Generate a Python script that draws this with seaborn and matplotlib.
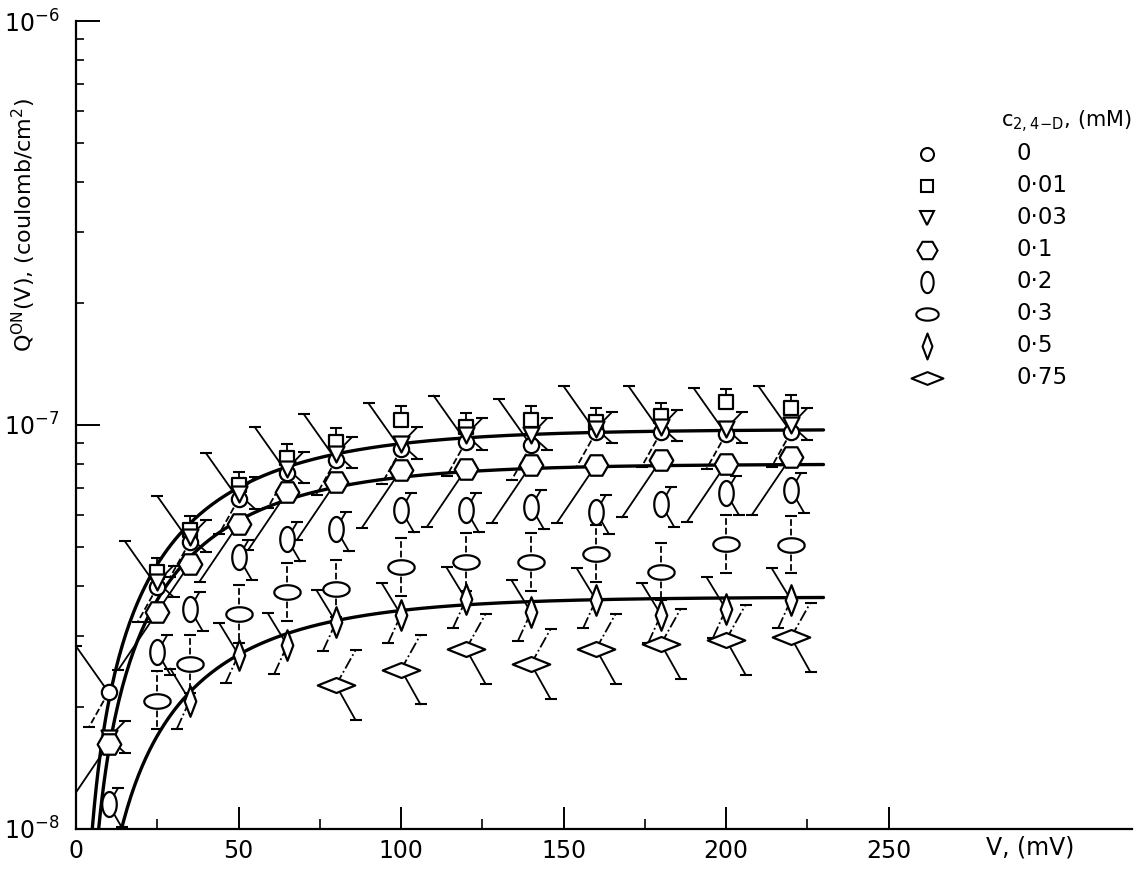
import numpy as np
import pandas as pd
import matplotlib
matplotlib.use("Agg")
import matplotlib.pyplot as plt
import seaborn as sns
from matplotlib.path import Path
from matplotlib.ticker import LogLocator, NullFormatter, FixedLocator

# ---------------- data ----------------
V_MV = [10, 25, 35, 50, 65, 80, 100, 120, 140, 160, 180, 200, 220]
nan = np.nan
Q_0 = [2.18e-8, 3.97e-8, 5.13e-8, 6.55e-8, 7.6e-8, 8.2e-8, 8.7e-8, 9.1e-8, 8.9e-8, 9.6e-8, 9.6e-8, 9.5e-8, 9.6e-8]
Q_001 = [nan, 4.33e-8, 5.5e-8, 7.1e-8, 8.3e-8, 9.1e-8, 1.03e-7, 0.99e-7, 1.03e-7, 1.02e-7, 1.05e-7, 1.14e-7, 1.1e-7]
Q_003 = [1.68e-8, 4.08e-8, 5.28e-8, 6.75e-8, 7.8e-8, 8.5e-8, 8.98e-8, 9.45e-8, 9.45e-8, 9.8e-8, 9.9e-8, 9.8e-8, 1.0e-7]
Q_01 = [1.62e-8, 3.44e-8, 4.53e-8, 5.69e-8, 6.82e-8, 7.22e-8, 7.74e-8, 7.78e-8, 7.96e-8, 7.96e-8, 8.2e-8, 8.0e-8, 8.33e-8]
Q_02 = [1.15e-8, 2.74e-8, 3.51e-8, 4.71e-8, 5.22e-8, 5.53e-8, 6.16e-8, 6.16e-8, 6.27e-8, 6.1e-8, 6.37e-8, 6.8e-8, 6.9e-8]
Q_03 = [nan, 2.08e-8, 2.56e-8, 3.4e-8, 3.86e-8, 3.93e-8, 4.45e-8, 4.58e-8, 4.58e-8, 4.8e-8, 4.33e-8, 5.07e-8, 5.05e-8]
Q_05 = [nan, nan, 2.08e-8, 2.70e-8, 2.85e-8, 3.25e-8, 3.39e-8, 3.7e-8, 3.44e-8, 3.69e-8, 3.39e-8, 3.5e-8, 3.69e-8]
Q_075 = [nan, nan, nan, nan, nan, 2.27e-8, 2.48e-8, 2.79e-8, 2.56e-8, 2.79e-8, 2.87e-8, 2.94e-8, 2.98e-8]

CONC_LABELS = ["0", "0·01", "0·03", "0·1", "0·2", "0·3", "0·5", "0·75"]
SERIES = [Q_0, Q_001, Q_003, Q_01, Q_02, Q_03, Q_05, Q_075]

# relative error (upper / lower multiplicative factors), nan = not drawn
ERR_UP = [1.30, 1.08, 1.10, nan, 1.10, 1.18, 1.20, 1.22]
ERR_DN = [0.82, nan, 0.92, 0.72, 0.88, 0.85, 0.85, 0.82]

# fitted curves: Qmax, V0 (mV), k (mV)
FIT_QMAX = [9.75e-8, 8.0e-8, 3.75e-8]
FIT_V0 = [0.8, 2.0, 2.4]
FIT_K = [38.9, 37.2, 37.4]
FIT_VEND = 230

X_TICKS = [0, 50, 100, 150, 200, 250]
X_MINOR = [25, 75, 125, 175, 225]

# ---------------- styles ----------------
def ellipse(w, h):
    t = np.linspace(0, 2 * np.pi, 61)
    return Path(np.column_stack([w * np.cos(t), h * np.sin(t)]))

def diamond(w, h):
    return Path([(0, h), (w, 0), (0, -h), (-w, 0), (0, h)], closed=True)

MARKERS = ["o", "s", "v", "H", ellipse(0.58, 1.0), ellipse(1.0, 0.55), diamond(0.38, 1.0), diamond(1.0, 0.4)]
MSIZE = [11, 10.5, 11.5, 17, 18, 19, 22, 27]
SLANT_UP = [-10, 0, 5, 0, 3, 0, -6, 6]
SLANT_DN = [-6, 0, 5, -12, 4, 0, -4, 6]
LS_UP = ["-", "-", "-", "-", "-", "--", "-", "-."]
LS_DN = ["--", "-", "-", "-", "-", "--", "-.", "-"]

sns.set_theme(style="ticks")
plt.rcParams["font.family"] = ["DejaVu Sans"]
plt.rcParams["mathtext.fontset"] = "dejavusans"
plt.rcParams["text.color"] = "black"

W, H = 1142, 869
fig = plt.figure(figsize=(W / 100, H / 100), dpi=100)
fig.patch.set_facecolor("white")
ax = fig.add_axes([76 / W, 40 / H, (1132 - 76) / W, (829 - 21) / H])
ax.set_facecolor("white")

rows = []
for lab, vals in zip(CONC_LABELS, SERIES):
    for v, q in zip(V_MV, vals):
        rows.append({"V": v, "Q": q, "c": lab})
df = pd.DataFrame(rows).dropna()

# error bars (drawn under markers)
for i, lab in enumerate(CONC_LABELS):
    sub = df[df.c == lab]
    for ratio, slant, ls in ((ERR_UP[i], SLANT_UP[i], LS_UP[i]), (ERR_DN[i], SLANT_DN[i], LS_DN[i])):
        if np.isnan(ratio):
            continue
        xs, ys = [], []
        for v, q in zip(sub.V, sub.Q):
            xs += [v, v + slant, np.nan]
            ys += [q, q * ratio, np.nan]
        ax.plot(xs, ys, color="black", lw=1.3, ls=ls, zorder=2)
        ax.plot(sub.V + slant, sub.Q * ratio, ls="none", marker="_", ms=8, mew=1.5,
                color="black", zorder=2)

# fitted curves
for qm, v0, k in zip(FIT_QMAX, FIT_V0, FIT_K):
    vg = np.linspace(v0 + 0.3, FIT_VEND, 400)
    qg = qm * (1 - np.exp(-(vg - v0) / k))
    sns.lineplot(x=vg, y=qg, color="black", lw=2.4, ax=ax, zorder=2.5, sort=False)

# data markers
for i, lab in enumerate(CONC_LABELS):
    sub = df[df.c == lab]
    coll_before = len(ax.collections)
    sns.scatterplot(data=sub, x="V", y="Q", marker=MARKERS[i], s=MSIZE[i] ** 2,
                    ax=ax, zorder=3, legend=False)
    for coll in ax.collections[coll_before:]:
        coll.set_facecolor("white")
        coll.set_edgecolor("black")
        coll.set_linewidth(1.6)
        coll.set_zorder(3)

ax.set_yscale("log")
ax.set_xlim(0, (1132 - 76) / 3.25)
ax.set_ylim(1e-8, 1e-6)
ax.xaxis.set_major_locator(FixedLocator(X_TICKS))
ax.set_xticklabels([str(t) for t in X_TICKS])
ax.xaxis.set_minor_locator(FixedLocator(X_MINOR))
ax.yaxis.set_minor_locator(LogLocator(base=10, subs=np.arange(2, 10)))
ax.yaxis.set_minor_formatter(NullFormatter())
ax.tick_params(axis="x", which="major", direction="in", length=16, width=1.4, labelsize=17, pad=7, colors="black")
ax.tick_params(axis="x", which="minor", direction="in", length=7, width=1.4)
ax.tick_params(axis="y", which="major", direction="in", length=17, width=1.4, labelsize=17, pad=12, colors="black")
ax.tick_params(axis="y", which="minor", direction="in", length=6, width=1.4)
for s in ("top", "right"):
    ax.spines[s].set_visible(False)
for s in ("left", "bottom"):
    ax.spines[s].set_linewidth(1.6)
    ax.spines[s].set_color("black")
ax.set_xlabel("")
ax.set_ylabel("")

fig.text(1030 / W, 1 - 848 / H, "V, (mV)", ha="center", va="center", fontsize=17)
fig.text(24 / W, 1 - 225 / H, r"Q$^{\mathregular{ON}}$(V), (coulomb/cm$^{2}$)", rotation=90,
         ha="center", va="center", fontsize=16)

# legend (manual, in pixel layout)
lax = fig.add_axes([0, 0, 1, 1])
lax.set_axis_off()
lax.set_xlim(0, W)
lax.set_ylim(H, 0)
fig.text(1001 / W, 1 - 122 / H, r"c$_{\mathregular{2,4\!-\!D}}$, (mM)", ha="left", va="center", fontsize=15)
for i, lab in enumerate(CONC_LABELS):
    yy = 154 + 32 * i
    lax.plot([927], [yy], marker=MARKERS[i], ms=MSIZE[i] * 0.85, mfc="white", mec="black", mew=1.5, ls="none")
    lax.text(1017, yy, lab, ha="left", va="center", fontsize=16.5)

fig.savefig("out.png", dpi=100, facecolor="white")
